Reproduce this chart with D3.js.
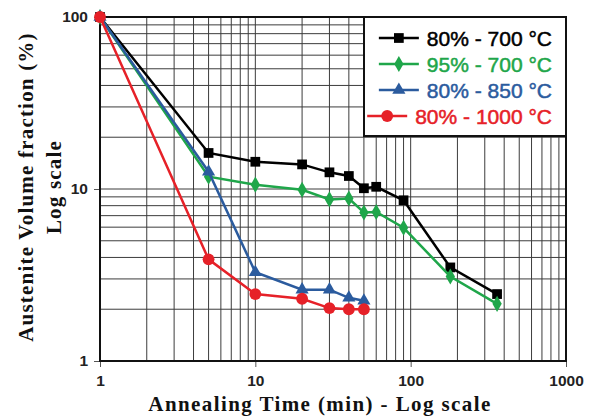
<!DOCTYPE html>
<html>
<head>
<meta charset="utf-8">
<script src="https://cdn.jsdelivr.net/npm/d3@7"></script>
<style>
  body { margin: 0; background: #fff; }
  svg { display: block; }
</style>
</head>
<body>
<svg id="chart"></svg>
<script>
const width = 590, height = 418
const margin = {top: 17, right: 24, bottom: 57, left: 100}

// annealing times (min) and austenite fraction (%)
const times = [1, 5, 10, 20, 30, 40, 50, 60, 90, 180, 360]
const s80_700 = [100, 16.2, 14.4, 13.9, 12.5, 11.9, 10.1, 10.3, 8.6, 3.5, 2.45]
const s95_700 = [100, 11.8, 10.6, 9.9, 8.7, 8.8, 7.3, 7.35, 5.95, 3.1, 2.15]
const times850 = [1, 5, 10, 20, 30, 40, 50]
const s80_850 = [100, 12.6, 3.28, 2.6, 2.6, 2.33, 2.24]
const s80_1000 = [100, 3.9, 2.45, 2.3, 2.03, 2.0, 2.0]

const xTicks = [1, 10, 100, 1000]
const yTicks = [1, 10, 100]

const series = [
  {name: "80% - 700 \u00b0C", color: "#000000", symbol: d3.symbolSquare, size: 95, x: times, y: s80_700},
  {name: "95% - 700 \u00b0C", color: "#1fa64a", symbol: d3.symbolDiamond, size: 75, x: times, y: s95_700},
  {name: "80% - 850 \u00b0C", color: "#2b5b9e", symbol: d3.symbolTriangle, size: 75, x: times850, y: s80_850},
  {name: "80% - 1000 \u00b0C", color: "#e62128", symbol: d3.symbolCircle, size: 110, x: times850, y: s80_1000}
]

const w = width - margin.left - margin.right
const h = height - margin.top - margin.bottom

const svg = d3.select("#chart").attr("width", width).attr("height", height)
const g = svg.append("g").attr("transform", `translate(${margin.left},${margin.top})`)

const x = d3.scaleLog().domain([1, 1000]).range([0, w])
const y = d3.scaleLog().domain([1, 100]).range([h, 0])

// minor + major grid
const gridX = x.ticks(27).filter(v => v > 1 && v < 1000)
const gridY = y.ticks(20).filter(v => v > 1 && v < 100)

g.append("g").selectAll("line").data(gridX).enter().append("line")
  .attr("x1", d => x(d)).attr("x2", d => x(d))
  .attr("y1", 0).attr("y2", h)
  .attr("stroke", "#3c3c3c").attr("stroke-width", 1)

g.append("g").selectAll("line").data(gridY).enter().append("line")
  .attr("y1", d => y(d)).attr("y2", d => y(d))
  .attr("x1", 0).attr("x2", w)
  .attr("stroke", "#3c3c3c").attr("stroke-width", 1)

// axes
const xAxis = g.append("g").attr("transform", `translate(0,${h})`)
  .call(d3.axisBottom(x).tickValues(xTicks).tickFormat(d3.format("d")).tickSize(6).tickPadding(8))
const yAxis = g.append("g")
  .call(d3.axisLeft(y).tickValues(yTicks).tickFormat(d3.format("d")).tickSize(6).tickPadding(6))

;[xAxis, yAxis].forEach(a => {
  a.select(".domain").remove()
  a.selectAll("line").attr("stroke", "#555")
  a.selectAll("text")
    .style("font-family", "'Liberation Sans', Arial, sans-serif")
    .style("font-weight", "bold")
    .style("font-size", "15.5px")
    .attr("fill", "#222")
})

// plot frame
g.append("rect").attr("width", w).attr("height", h)
  .attr("fill", "none").attr("stroke", "#111").attr("stroke-width", 2)

// series
series.forEach(s => {
  const pts = s.x.map((t, i) => [t, s.y[i]])
  g.append("path").datum(pts)
    .attr("fill", "none").attr("stroke", s.color).attr("stroke-width", 2.5)
    .attr("d", d3.line().x(d => x(d[0])).y(d => y(d[1])))
  g.append("g").selectAll("path").data(pts).enter().append("path")
    .attr("transform", d => `translate(${x(d[0])},${y(d[1])})`)
    .attr("d", d3.symbol().type(s.symbol).size(s.size))
    .attr("fill", s.color)
})

// legend
const legend = g.append("g")
legend.append("rect")
  .attr("x", 264).attr("y", 0).attr("width", w - 264).attr("height", 119)
  .attr("fill", "#fff").attr("stroke", "#111").attr("stroke-width", 2)

series.forEach((s, i) => {
  const ly = 21 + i * 26
  const item = legend.append("g")
  const txt = item.append("text")
    .attr("x", 452).attr("y", ly).attr("dy", "0.36em")
    .attr("text-anchor", "end")
    .style("font-family", "'Liberation Sans', Arial, sans-serif")
    .style("font-size", "21px")
    .attr("fill", s.color)
    .attr("stroke", s.color).attr("stroke-width", 0.5)
    .text(s.name)
  const tw = txt.node().getComputedTextLength()
  const x1 = 452 - tw - 48, x2 = 452 - tw - 8
  item.append("line").attr("x1", x1).attr("x2", x2).attr("y1", ly).attr("y2", ly)
    .attr("stroke", s.color).attr("stroke-width", 2.5)
  item.append("path")
    .attr("transform", `translate(${(x1 + x2) / 2},${ly})`)
    .attr("d", d3.symbol().type(s.symbol).size(s.size))
    .attr("fill", s.color)
})

// axis titles
svg.append("text")
  .attr("x", 320).attr("y", 411)
  .attr("text-anchor", "middle")
  .style("font-family", "'Liberation Serif', 'Times New Roman', serif")
  .style("font-weight", "bold").style("font-size", "21px")
  .style("letter-spacing", "1.4px")
  .attr("fill", "#111")
  .text("Annealing Time (min) - Log scale")

const yt = svg.append("text")
  .attr("transform", "translate(0,187) rotate(-90)")
  .attr("text-anchor", "middle")
  .style("font-family", "'Liberation Serif', 'Times New Roman', serif")
  .style("font-weight", "bold").style("font-size", "21px")
  .style("letter-spacing", "1.2px")
  .attr("fill", "#111")
yt.append("tspan").attr("x", 0).attr("y", 33).text("Austenite Volume fraction (%)")
yt.append("tspan").attr("x", 0).attr("y", 61).text("Log scale")
</script>
</body>
</html>
